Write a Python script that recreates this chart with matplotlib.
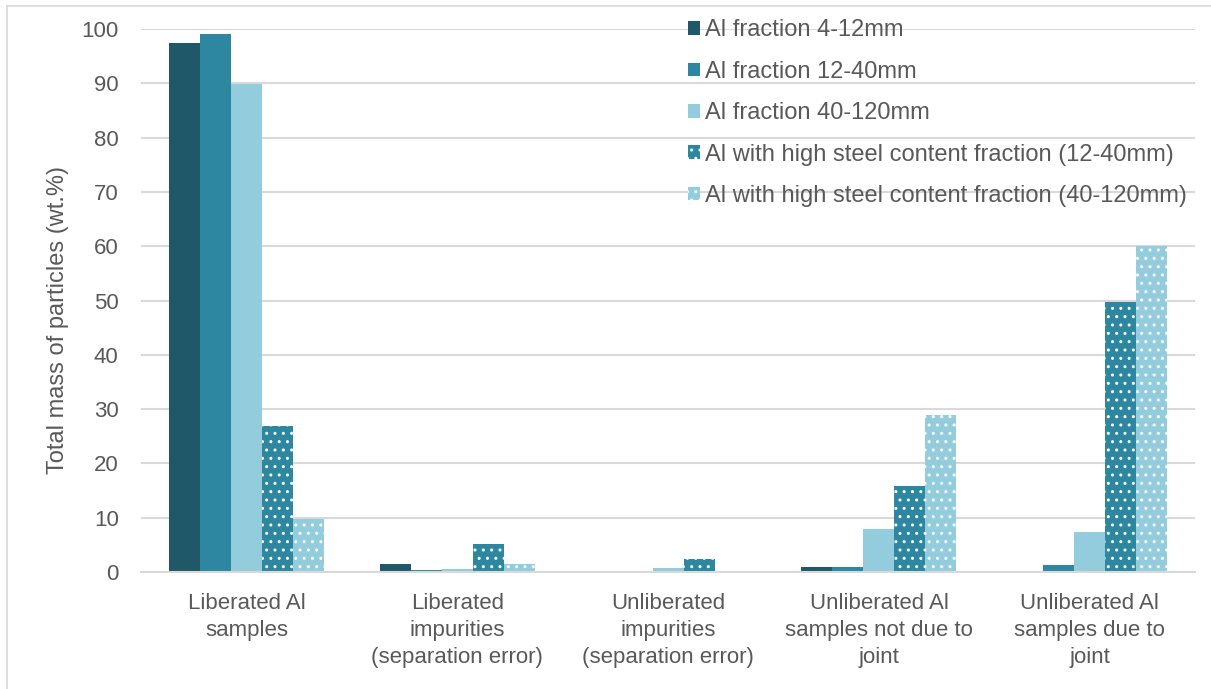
import numpy as np
import matplotlib.pyplot as plt
from matplotlib.lines import Line2D

plt.rcParams["font.family"] = ["Liberation Sans", "DejaVu Sans"]
plt.rcParams["hatch.linewidth"] = 1.0

categories = [
    "Liberated Al\nsamples",
    "Liberated\nimpurities\n(separation error)",
    "Unliberated\nimpurities\n(separation error)",
    "Unliberated Al\nsamples not due to\njoint",
    "Unliberated Al\nsamples due to\njoint",
]
series_names = [
    "Al fraction 4-12mm",
    "Al fraction 12-40mm",
    "Al fraction 40-120mm",
    "Al with high steel content fraction (12-40mm)",
    "Al with high steel content fraction (40-120mm)",
]
al_4_12 = [97.4, 1.5, 0.0, 1.0, 0.0]
al_12_40 = [99.0, 0.3, 0.0, 0.9, 1.3]
al_40_120 = [89.9, 0.6, 0.8, 7.9, 7.4]
steel_12_40 = [26.9, 5.2, 2.4, 15.8, 49.7]
steel_40_120 = [9.7, 1.4, 0.0, 29.0, 60.0]

series = [al_4_12, al_12_40, al_40_120, steel_12_40, steel_40_120]
colors = ["#1F5868", "#2E87A0", "#93CDDD", "#2E87A0", "#93CDDD"]
dotted = [False, False, False, True, True]

text_color = "#595959"
grid_color = "#D9D9D9"

fig = plt.figure(figsize=(12.11, 6.89), dpi=100)
ax = fig.add_axes([0.1164, 0.1698, 0.8706, 0.7881])

x = np.arange(len(categories))
width = 0.147
handles = []
for i, (vals, col, dot) in enumerate(zip(series, colors, dotted)):
    pos = x + (i - 2) * width
    face = ax.bar(pos, vals, width, color=col, edgecolor="none", zorder=2)
    if dot:
        over = ax.bar(pos, vals, width, facecolor="none", edgecolor="white",
                      linewidth=0, hatch="..", zorder=3)
        handles.append((face[0], over[0]))
    else:
        handles.append(face[0])

ax.set_xlim(-0.5, len(categories) - 0.5)
ax.set_ylim(0, 100)
ax.set_yticks(np.arange(0, 101, 10))
ax.set_xticks(x)
ax.set_xticklabels(categories, fontsize=16, color=text_color, linespacing=1.38)
ax.tick_params(axis="y", length=0, pad=16, labelsize=16, labelcolor=text_color)
ax.tick_params(axis="x", length=0, pad=15)
ax.grid(axis="y", color=grid_color, linewidth=1.5, zorder=0)
ax.set_axisbelow(True)
for side in ["left", "right", "top"]:
    ax.spines[side].set_visible(False)
ax.spines["bottom"].set_color(grid_color)
ax.spines["bottom"].set_linewidth(1.5)
ax.spines["bottom"].set_zorder(4)

ax.set_ylabel("Total mass of particles (wt.%)", fontsize=17, color=text_color, labelpad=9)
ax.yaxis.label.set_y(0.464)

leg = ax.legend(handles, series_names, loc="upper left", bbox_to_anchor=(0.51, 1.035),
                frameon=False, fontsize=17, handlelength=0.5, handleheight=0.5,
                handletextpad=0.2, labelspacing=0.82, borderaxespad=0)
for t in leg.get_texts():
    t.set_color(text_color)

# thin frame around the chart area
fig.add_artist(Line2D([0.006, 0.006], [0.0, 0.992], color=grid_color, linewidth=1.2))
fig.add_artist(Line2D([0.006, 1.0], [0.992, 0.992], color=grid_color, linewidth=1.2))

fig.savefig("out.png", dpi=100)
